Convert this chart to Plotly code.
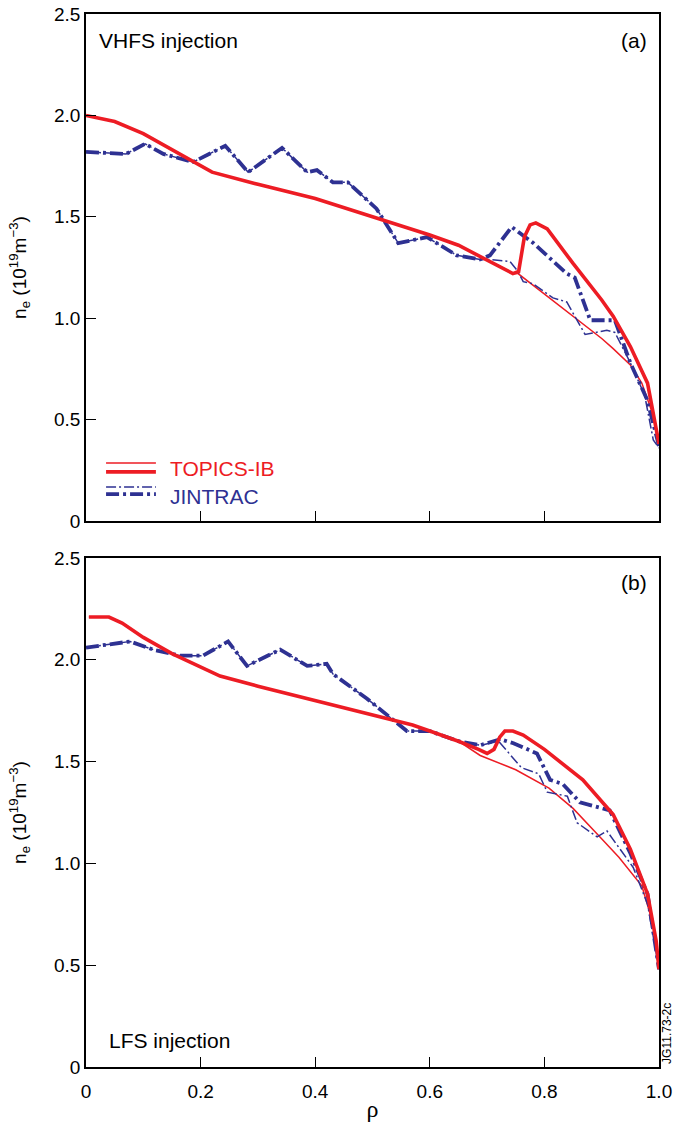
import plotly.graph_objects as go

# ---------------- data ----------------
# Panel (a) VHFS injection
a_topics_thick_rho = [0, 0.05, 0.1, 0.15, 0.22, 0.3, 0.4, 0.5, 0.6, 0.65, 0.69, 0.72, 0.745, 0.755,
                      0.765, 0.775, 0.785, 0.805, 0.85, 0.9, 0.92, 0.95, 0.98, 1.0]
a_topics_thick_ne = [2.0, 1.97, 1.91, 1.83, 1.72, 1.66, 1.59, 1.50, 1.41, 1.36, 1.30, 1.26, 1.22, 1.23,
                     1.40, 1.46, 1.47, 1.44, 1.27, 1.09, 1.01, 0.86, 0.68, 0.38]
a_topics_thin_rho = [0, 0.05, 0.1, 0.15, 0.22, 0.3, 0.4, 0.5, 0.6, 0.65, 0.69, 0.72, 0.745, 0.754,
                     0.8, 0.85, 0.9, 0.92, 0.95, 0.97, 0.99, 1.0]
a_topics_thin_ne = [2.0, 1.97, 1.91, 1.83, 1.72, 1.66, 1.59, 1.50, 1.41, 1.36, 1.30, 1.26, 1.22, 1.22,
                    1.12, 1.01, 0.90, 0.85, 0.77, 0.68, 0.52, 0.38]
a_jintrac_thick_rho = [0, 0.07, 0.103, 0.135, 0.187, 0.243, 0.283, 0.342, 0.386, 0.403, 0.431, 0.457,
                       0.507, 0.545, 0.595, 0.647, 0.688, 0.705, 0.743, 0.781, 0.839, 0.853, 0.88,
                       0.923, 0.95, 0.979, 1.0]
a_jintrac_thick_ne = [1.82, 1.81, 1.86, 1.81, 1.77, 1.85, 1.72, 1.84, 1.72, 1.73, 1.67, 1.67,
                      1.54, 1.37, 1.40, 1.31, 1.29, 1.31, 1.45, 1.37, 1.22, 1.20, 0.99,
                      0.99, 0.78, 0.60, 0.37]
a_jintrac_thin_rho = [0, 0.07, 0.103, 0.135, 0.187, 0.243, 0.283, 0.342, 0.386, 0.403, 0.431, 0.457,
                      0.507, 0.545, 0.595, 0.647, 0.688, 0.705, 0.74, 0.754, 0.763, 0.78, 0.815,
                      0.839, 0.871, 0.892, 0.909, 0.923, 0.95, 0.975, 0.99, 1.0]
a_jintrac_thin_ne = [1.82, 1.81, 1.86, 1.81, 1.77, 1.85, 1.72, 1.84, 1.72, 1.73, 1.67, 1.67,
                     1.54, 1.37, 1.40, 1.31, 1.29, 1.29, 1.28, 1.23, 1.18, 1.17, 1.10,
                     1.08, 0.92, 0.93, 0.94, 0.93, 0.78, 0.62, 0.40, 0.36]

# Panel (b) LFS injection
b_topics_thick_rho = [0.005, 0.04, 0.063, 0.1, 0.15, 0.234, 0.3, 0.4, 0.5, 0.57, 0.6, 0.65, 0.685,
                      0.7, 0.712, 0.722, 0.731, 0.745, 0.763, 0.8, 0.867, 0.92, 0.95, 0.98, 0.995, 1.0]
b_topics_thick_ne = [2.21, 2.21, 2.18, 2.11, 2.03, 1.92, 1.87, 1.80, 1.73, 1.68, 1.65, 1.60, 1.56,
                     1.54, 1.56, 1.62, 1.65, 1.65, 1.63, 1.56, 1.41, 1.24, 1.07, 0.85, 0.62, 0.48]
b_topics_thin_rho = [0.005, 0.04, 0.063, 0.1, 0.15, 0.234, 0.3, 0.4, 0.5, 0.57, 0.6, 0.65, 0.688,
                     0.75, 0.808, 0.85, 0.897, 0.93, 0.97, 0.99, 1.0]
b_topics_thin_ne = [2.21, 2.21, 2.18, 2.11, 2.03, 1.92, 1.87, 1.80, 1.73, 1.68, 1.65, 1.60, 1.53,
                    1.46, 1.37, 1.27, 1.13, 1.03, 0.89, 0.70, 0.48]
b_jintrac_thick_rho = [0, 0.077, 0.117, 0.164, 0.204, 0.248, 0.281, 0.339, 0.386, 0.42, 0.431, 0.49,
                       0.56, 0.6, 0.65, 0.688, 0.723, 0.746, 0.787, 0.81, 0.832, 0.862, 0.914,
                       0.95, 0.98, 1.0]
b_jintrac_thick_ne = [2.06, 2.09, 2.05, 2.02, 2.02, 2.09, 1.97, 2.05, 1.97, 1.98, 1.93, 1.81,
                      1.65, 1.65, 1.60, 1.58, 1.61, 1.59, 1.54, 1.41, 1.39, 1.30, 1.26,
                      1.05, 0.85, 0.48]
b_jintrac_thin_rho = [0, 0.077, 0.117, 0.164, 0.204, 0.248, 0.281, 0.339, 0.386, 0.42, 0.431, 0.49,
                      0.56, 0.6, 0.65, 0.688, 0.72, 0.76, 0.79, 0.805, 0.84, 0.857, 0.892, 0.909,
                      0.955, 0.98, 1.0]
b_jintrac_thin_ne = [2.06, 2.09, 2.05, 2.02, 2.02, 2.09, 1.97, 2.05, 1.97, 1.98, 1.93, 1.81,
                     1.65, 1.65, 1.60, 1.58, 1.60, 1.47, 1.44, 1.35, 1.33, 1.20, 1.13, 1.16,
                     0.98, 0.80, 0.48]

x_tick_vals = [0, 0.2, 0.4, 0.6, 0.8, 1.0]
x_tick_text = ["0", "0.2", "0.4", "0.6", "0.8", "1.0"]
y_tick_vals = [0, 0.5, 1.0, 1.5, 2.0, 2.5]
y_tick_text = ["0", "0.5", "1.0", "1.5", "2.0", "2.5"]

# ---------------- style ----------------
RED = "#ED1C24"
BLUE = "#2E3192"
FONT = "Liberation Sans, Arial, sans-serif"
THICK_DASH = "13px,4px,3px,4px"
THIN_DASH = "10px,3px,2px,3px"

fig = go.Figure()

def add(rho, ne, color, width, dash, xa, ya):
    fig.add_trace(go.Scatter(x=rho, y=ne, mode="lines", xaxis=xa, yaxis=ya,
                             line=dict(color=color, width=width, dash=dash),
                             showlegend=False, hoverinfo="skip"))

# panel (a)
add(a_topics_thin_rho, a_topics_thin_ne, RED, 1.5, "solid", "x", "y")
add(a_jintrac_thin_rho, a_jintrac_thin_ne, BLUE, 1.5, THIN_DASH, "x", "y")
add(a_jintrac_thick_rho, a_jintrac_thick_ne, BLUE, 3.8, THICK_DASH, "x", "y")
add(a_topics_thick_rho, a_topics_thick_ne, RED, 3.6, "solid", "x", "y")
# panel (b)
add(b_topics_thin_rho, b_topics_thin_ne, RED, 1.5, "solid", "x2", "y2")
add(b_jintrac_thin_rho, b_jintrac_thin_ne, BLUE, 1.5, THIN_DASH, "x2", "y2")
add(b_jintrac_thick_rho, b_jintrac_thick_ne, BLUE, 3.8, THICK_DASH, "x2", "y2")
add(b_topics_thick_rho, b_topics_thick_ne, RED, 3.6, "solid", "x2", "y2")

ylabel = "n<sub>e</sub> (10<sup>19</sup>m<sup>−3</sup>)"

common_x = dict(range=[0, 1], showline=True, linecolor="black", linewidth=1.5, mirror=True,
                ticks="inside", ticklen=10, tickwidth=1, tickcolor="black", automargin=False,
                tickvals=x_tick_vals, showgrid=False, zeroline=False,
                tickfont=dict(family=FONT, size=19, color="black"))
common_y = dict(range=[0, 2.5], showline=True, linecolor="black", linewidth=1.5, mirror=True,
                ticks="inside", ticklen=10, tickwidth=1, tickcolor="black", automargin=False,
                tickvals=y_tick_vals, ticktext=y_tick_text, showgrid=False, zeroline=False,
                tickfont=dict(family=FONT, size=19, color="black"),
                title=dict(text=ylabel, font=dict(family=FONT, size=19, color="black"), standoff=22))

fig.update_layout(
    width=675, height=1122,
    margin=dict(l=86, r=16, t=14, b=55),
    paper_bgcolor="white", plot_bgcolor="white",
    xaxis=dict(**common_x, domain=[0, 1], anchor="y", showticklabels=False),
    yaxis=dict(**common_y, domain=[0.5185, 1.0], anchor="x"),
    xaxis2=dict(**common_x, domain=[0, 1], anchor="y2", ticktext=x_tick_text, ticklabelstandoff=6,
                title=dict(text="ρ", font=dict(family="Liberation Serif, serif", size=24, color="black"),
                           standoff=6)),
    yaxis2=dict(**common_y, domain=[0, 0.4834], anchor="x2"),
)

ann_font = dict(family=FONT, size=21, color="black")
annotations = [
    dict(text="VHFS injection", xref="x domain", yref="y domain", x=0.019, y=0.947,
         xanchor="left", yanchor="middle", showarrow=False, font=ann_font),
    dict(text="(a)", xref="x domain", yref="y domain", x=0.982, y=0.947,
         xanchor="right", yanchor="middle", showarrow=False, font=ann_font),
    dict(text="(b)", xref="x2 domain", yref="y2 domain", x=0.982, y=0.951,
         xanchor="right", yanchor="middle", showarrow=False, font=ann_font),
    dict(text="LFS injection", xref="x2 domain", yref="y2 domain", x=0.037, y=0.053,
         xanchor="left", yanchor="middle", showarrow=False, font=ann_font),
    dict(text="TOPICS-IB", xref="x domain", yref="y domain", x=0.143, y=0.103,
         xanchor="left", yanchor="middle", showarrow=False,
         font=dict(family=FONT, size=21, color=RED)),
    dict(text="JINTRAC", xref="x domain", yref="y domain", x=0.143, y=0.049,
         xanchor="left", yanchor="middle", showarrow=False,
         font=dict(family=FONT, size=21, color=BLUE)),
    dict(text="JG11.73-2c", xref="paper", yref="paper", x=1.015, y=0.032,
         xanchor="center", yanchor="middle", textangle=-90, showarrow=False,
         font=dict(family=FONT, size=12, color="black")),
]
fig.update_layout(annotations=annotations)

# legend sample lines (drawn in axis-domain coordinates)
legend_lines = [
    (0.1146, RED, 1.5, "solid"),
    (0.097, RED, 3.6, "solid"),
    (0.067, BLUE, 1.5, THIN_DASH),
    (0.053, BLUE, 3.8, THICK_DASH),
]
for yy, col, w, d in legend_lines:
    fig.add_shape(type="line", xref="x domain", yref="y domain", x0=0.035, x1=0.122, y0=yy, y1=yy,
                  line=dict(color=col, width=w, dash=d))

fig.write_html("out.html")
